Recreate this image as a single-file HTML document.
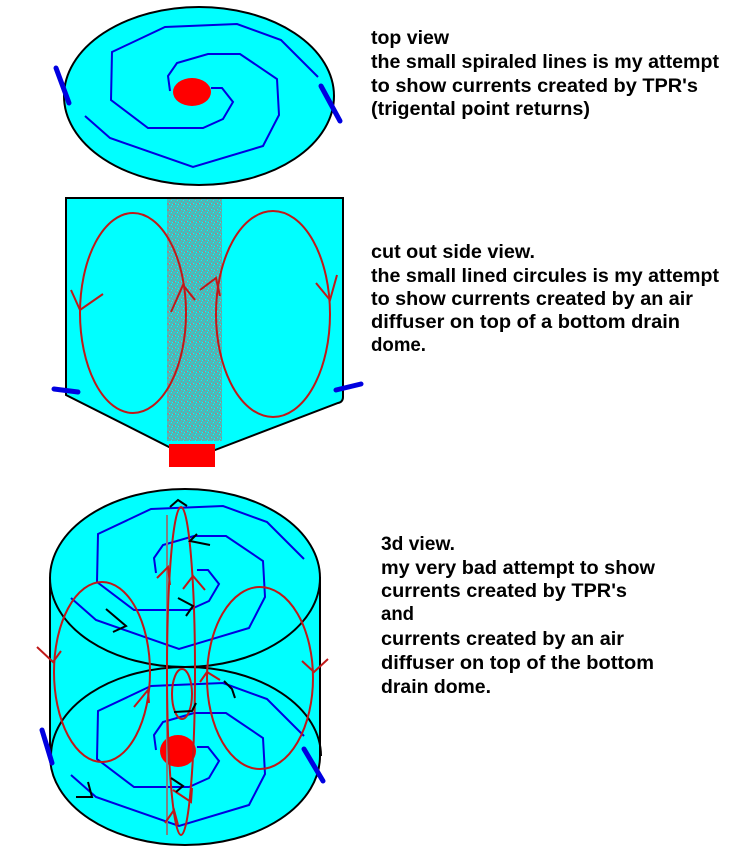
<!DOCTYPE html>
<html><head><meta charset="utf-8"><style>
html,body{margin:0;padding:0;background:#fff;}
svg{display:block}
text{font-family:"Liberation Sans",Arial,sans-serif;font-weight:bold;font-size:19px;fill:#000}
</style></head><body>
<svg width="742" height="858" viewBox="0 0 742 858" xmlns="http://www.w3.org/2000/svg">
<defs>
<pattern id="noise" width="6" height="6" patternUnits="userSpaceOnUse">
<rect width="6" height="6" fill="#40c0c0"/>
<rect x="0" y="0" width="1" height="1" fill="#909090"/><rect x="2" y="1" width="1" height="1" fill="#909090"/>
<rect x="5" y="0" width="1" height="1" fill="#909090"/><rect x="1" y="3" width="1" height="1" fill="#909090"/>
<rect x="4" y="2" width="1" height="1" fill="#909090"/><rect x="3" y="4" width="1" height="1" fill="#909090"/>
<rect x="0" y="5" width="1" height="1" fill="#909090"/><rect x="5" y="5" width="1" height="1" fill="#909090"/>
<rect x="3" y="2" width="1" height="1" fill="#00ffff"/><rect x="1" y="5" width="1" height="1" fill="#00ffff"/>
<rect x="4" y="0" width="1" height="1" fill="#00ffff"/>
</pattern>
<g id="spiral" fill="none" stroke="#0000e0" stroke-width="2">
<polyline points="211,88 222,88 233,102 223,119 203,128 148,128 111,100 112,52 165,27 237,24 281,40 318,77"/>
<polyline points="170,91 168,76 177,63 208,54 240,54 277,79 279,115 263,146 193,167 110,138 85,116"/>
</g>
</defs>

<ellipse cx="199" cy="96" rx="135" ry="89" fill="#00ffff" stroke="#000" stroke-width="2"/>
<use href="#spiral"/>
<ellipse cx="192" cy="92" rx="19" ry="14" fill="#ff0000"/>
<line x1="56" y1="68" x2="69" y2="103" stroke="#0000e0" stroke-width="5" stroke-linecap="round"/>
<line x1="321" y1="86" x2="340" y2="121" stroke="#0000e0" stroke-width="5" stroke-linecap="round"/>

<path d="M66,198 L343,198 L343,397 Q343,402 338,403 L215,450 L169,447 L66,395 Z" fill="#00ffff" stroke="#000" stroke-width="2"/>
<rect x="167" y="199" width="55" height="242" fill="url(#noise)"/>
<g fill="none" stroke="#c01818" stroke-width="2">
<ellipse cx="133" cy="313" rx="53" ry="100"/>
<ellipse cx="273" cy="314" rx="57" ry="103"/>
<polyline points="71,290 80,310 103,294"/>
<polyline points="316,283 330,300 337,275"/>
<polyline points="171,312 183,285 195,300"/>
<polyline points="200,290 216,278 220,296"/>
</g>
<rect x="169" y="444" width="46" height="23" fill="#ff0000"/>
<line x1="54" y1="389" x2="78" y2="392" stroke="#0000e0" stroke-width="5" stroke-linecap="round"/>
<line x1="336" y1="390" x2="361" y2="384" stroke="#0000e0" stroke-width="5" stroke-linecap="round"/>

<path d="M50,578 L50,756 A135,89 0 0,0 320,756 L320,578 Z" fill="#00ffff" stroke="#000" stroke-width="2"/>
<ellipse cx="185" cy="578" rx="135" ry="89" fill="#00ffff" stroke="#000" stroke-width="2"/>
<path d="M51,756 A135,89 0 0,1 321,756" fill="none" stroke="#000" stroke-width="2"/>
<use href="#spiral" transform="translate(-14,482)"/>
<use href="#spiral" transform="translate(-14,659)"/>
<ellipse cx="178" cy="751" rx="18" ry="16" fill="#ff0000"/>
<line x1="167" y1="515" x2="167" y2="835" stroke="#808080" stroke-width="2"/>
<g fill="none" stroke="#c01818" stroke-width="2">
<ellipse cx="102" cy="672" rx="48" ry="90"/>
<ellipse cx="260" cy="678" rx="53" ry="91"/>
<ellipse cx="181" cy="671" rx="14" ry="164"/>
<ellipse cx="182" cy="694" rx="10" ry="25"/>
<polyline points="37,647 53,662 61,651"/>
<polyline points="302,661 314,672 328,659"/>
<polyline points="157,578 168,567 170,585"/>
<polyline points="183,589 193,576 205,590"/>
<polyline points="134,707 148,690 149,703"/>
<polyline points="200,682 207,672 220,680"/>
<polyline points="173,790 191,802 192,788"/>
<polyline points="165,823 174,810 178,825"/>
</g>
<g fill="none" stroke="#000" stroke-width="2">
<polyline points="170,507 178,500 187,506"/>
<polyline points="197,534 190,541 210,545"/>
<polyline points="178,598 193,606 186,616"/>
<polyline points="106,609 126,626 113,632"/>
<polyline points="224,681 232,689 235,698"/>
<polyline points="174,712 192,711 196,703"/>
<polyline points="171,778 183,786 176,792"/>
<polyline points="88,782 92,797 76,797"/>
</g>
<line x1="42" y1="730" x2="52" y2="763" stroke="#0000e0" stroke-width="5" stroke-linecap="round"/>
<line x1="304" y1="749" x2="323" y2="781" stroke="#0000e0" stroke-width="5" stroke-linecap="round"/>

<text x="371" y="44" textLength="78" lengthAdjust="spacingAndGlyphs">top view</text>
<text x="371" y="68" textLength="348" lengthAdjust="spacingAndGlyphs">the small spiraled lines is my attempt</text>
<text x="371" y="92" textLength="327" lengthAdjust="spacingAndGlyphs">to show currents created by TPR's</text>
<text x="371" y="115" textLength="219" lengthAdjust="spacingAndGlyphs">(trigental point returns)</text>

<text x="371" y="258" textLength="164" lengthAdjust="spacingAndGlyphs">cut out side view.</text>
<text x="371" y="282" textLength="348" lengthAdjust="spacingAndGlyphs">the small lined circules is my attempt</text>
<text x="371" y="305" textLength="322" lengthAdjust="spacingAndGlyphs">to show currents created by an air</text>
<text x="371" y="328" textLength="309" lengthAdjust="spacingAndGlyphs">diffuser on top of a bottom drain</text>
<text x="371" y="351" textLength="55" lengthAdjust="spacingAndGlyphs">dome.</text>

<text x="381" y="550" textLength="74" lengthAdjust="spacingAndGlyphs">3d view.</text>
<text x="381" y="574" textLength="274" lengthAdjust="spacingAndGlyphs">my very bad attempt to show</text>
<text x="381" y="597" textLength="246" lengthAdjust="spacingAndGlyphs">currents created by TPR's</text>
<text x="381" y="620" textLength="33" lengthAdjust="spacingAndGlyphs">and</text>
<text x="381" y="645" textLength="243" lengthAdjust="spacingAndGlyphs">currents created by an air</text>
<text x="381" y="669" textLength="273" lengthAdjust="spacingAndGlyphs">diffuser on top of the bottom</text>
<text x="381" y="693" textLength="110" lengthAdjust="spacingAndGlyphs">drain dome.</text>
</svg>
</body></html>
